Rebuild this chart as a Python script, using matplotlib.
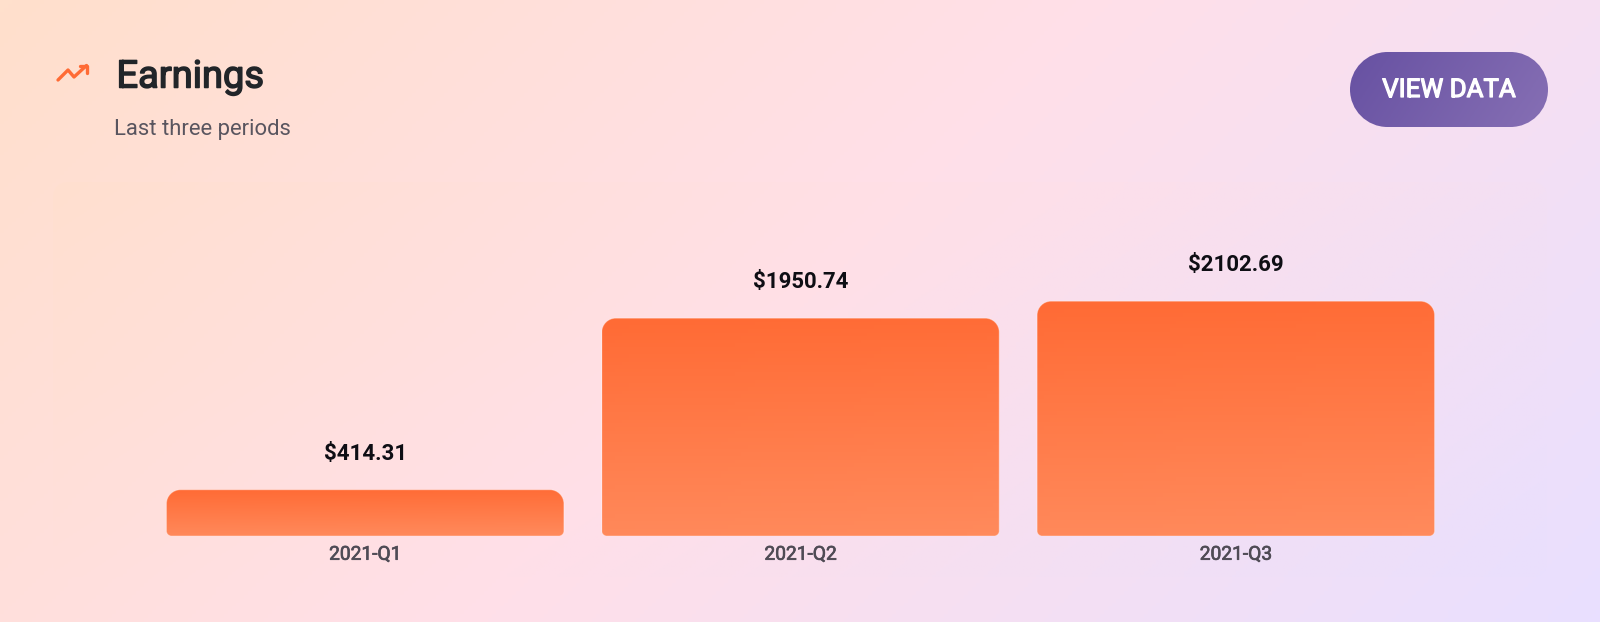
import numpy as np
import matplotlib
matplotlib.use('Agg')
import matplotlib.pyplot as plt
import matplotlib.patheffects as pe
from matplotlib.colors import LinearSegmentedColormap
from matplotlib.patches import PathPatch
from matplotlib.path import Path

categories = ['2021-Q1', '2021-Q2', '2021-Q3']
earnings = [414.31, 1950.74, 2102.69]
bar_labels = ['$414.31', '$1950.74', '$2102.69']

W, H = 1600, 622
plt.rcParams['font.family'] = ['Roboto', 'DejaVu Sans']

fig = plt.figure(figsize=(W / 100, H / 100), dpi=100)

K = 0.5523  # cubica para esquinas circulares


def round_rect(x0, y0, x1, y1, r_a, r_b, sx=1.0, sy=1.0):
    # y0 lado con radio r_a, y1 lado con radio r_b; sx, sy pixeles a unidades
    dy = 1 if y1 > y0 else -1
    ax_, ay_ = r_a / sx, r_a / sy
    bx_, by_ = r_b / sx, r_b / sy
    verts = [(x0 + ax_, y0), (x1 - ax_, y0),
             (x1 - ax_ * (1 - K), y0), (x1, y0 + dy * ay_ * (1 - K)), (x1, y0 + dy * ay_),
             (x1, y1 - dy * by_),
             (x1, y1 - dy * by_ * (1 - K)), (x1 - bx_ * (1 - K), y1), (x1 - bx_, y1),
             (x0 + bx_, y1),
             (x0 + bx_ * (1 - K), y1), (x0, y1 - dy * by_ * (1 - K)), (x0, y1 - dy * by_),
             (x0, y0 + dy * ay_),
             (x0, y0 + dy * ay_ * (1 - K)), (x0 + ax_ * (1 - K), y0), (x0 + ax_, y0),
             (x0 + ax_, y0)]
    codes = [Path.MOVETO, Path.LINETO,
             Path.CURVE4, Path.CURVE4, Path.CURVE4,
             Path.LINETO,
             Path.CURVE4, Path.CURVE4, Path.CURVE4,
             Path.LINETO,
             Path.CURVE4, Path.CURVE4, Path.CURVE4,
             Path.LINETO,
             Path.CURVE4, Path.CURVE4, Path.CURVE4,
             Path.CLOSEPOLY]
    return Path(verts, codes)


# fondo a pantalla completa, en pixeles con origen arriba
bg = fig.add_axes([0, 0, 1, 1])
bg.axis('off')

xx, yy = np.meshgrid(np.linspace(0, W, 400), np.linspace(0, H, 160))
t = xx + yy
t = t / t.max()
bg_cmap = LinearSegmentedColormap.from_list('bg', ['#FFE0CC', '#FFDFE9', '#E9DFFF'])
bg.imshow(t, extent=[0, W, H, 0], aspect='auto', cmap=bg_cmap, vmin=0, vmax=1, zorder=0)

# panel casi invisible detras del grafico, con el degradado propio
panel = PathPatch(round_rect(53, 182, 1547, 577, 14, 14), fc='none', ec='none')
bg.add_patch(panel)
pimg = bg.imshow(t, extent=[53, 1547, 577, 182], aspect='auto', cmap=bg_cmap, vmin=0, vmax=1,
                 alpha=0.35, zorder=1)
pimg.set_clip_path(panel)

# icono
bg.plot([58, 68, 74, 86.5], [80, 70, 77, 65.5], color='#FF6B35', lw=2.4, zorder=3,
        solid_capstyle='round', solid_joinstyle='round')
bg.plot([80, 87, 87], [65.5, 65.5, 72.5], color='#FF6B35', lw=2.4, zorder=3,
        solid_capstyle='round', solid_joinstyle='round')

bg.text(116.5, 77, 'Earnings', fontsize=27.4, color='#212529', va='center', zorder=3,
        path_effects=[pe.withStroke(linewidth=1.1, foreground='#212529')])
bg.text(114.5, 129, 'Last three periods', fontsize=15.8, color='#59555F', va='center', zorder=3)

# boton
btn = PathPatch(round_rect(1350, 52, 1548, 127, 37.5, 37.5), fc='none', ec='none', zorder=2)
bg.add_patch(btn)
bx, by = np.meshgrid(np.linspace(0, 1, 120), np.linspace(0, 1, 40))
im = bg.imshow(bx * 0.8 + by * 0.2, extent=[1350, 1548, 127, 52], aspect='auto', zorder=2,
               cmap=LinearSegmentedColormap.from_list('btn', ['#6751A2', '#866FB4']), vmin=0, vmax=1)
im.set_clip_path(btn)
bg.text(1449, 90, 'VIEW DATA', fontsize=18.6, color='white', ha='center', va='center', zorder=3,
        path_effects=[pe.withStroke(linewidth=0.9, foreground='white')])
bg.set_xlim(0, W)
bg.set_ylim(H, 0)

# grafico de barras
ax_l, ax_r, ax_t, ax_b = 147.5, 1453.5, 201, 536
ax = fig.add_axes([ax_l / W, 1 - ax_b / H, (ax_r - ax_l) / W, (ax_b - ax_t) / H])
ax.patch.set_alpha(0)
for s in ax.spines.values():
    s.set_visible(False)
ax.set_yticks([])
ax.set_xticks(range(3))
ax.set_xticklabels(categories, fontsize=13.8, color='#4F4B55',
                   path_effects=[pe.withStroke(linewidth=0.5, foreground='#4F4B55')])
ax.tick_params(axis='x', length=0, pad=7)

bar_w = 0.913
px_x = (ax_r - ax_l) / 3
px_y = (ax_b - ax_t) / 3000
bar_cmap = LinearSegmentedColormap.from_list('bar', ['#FF6B35', '#FF8A5C'])

for i, v in enumerate(earnings):
    x0, x1 = i - bar_w / 2, i + bar_w / 2
    shape = round_rect(x0, v, x1, 0, 14, 5, px_x, px_y)
    patch = PathPatch(shape, fc='none', ec='none')
    ax.add_patch(patch)
    gx, gy = np.meshgrid(np.linspace(0, 1, 60), np.linspace(0, 1, 60))
    # gradiente un poco inclinado
    g = gy * 0.95 + gx * 0.05
    img = ax.imshow(g, extent=[x0, x1, 0, v], aspect='auto', cmap=bar_cmap,
                    vmin=0, vmax=1, zorder=2)
    img.set_clip_path(patch)
    ax.add_patch(PathPatch(shape, fc='none', ec='white', lw=0.8, alpha=0.3, zorder=3))
    ax.text(i, v + 321, bar_labels[i], ha='center', va='center', fontsize=16,
            fontweight='bold', color='#0E0E14')

ax.set_xlim(-0.5, 2.5)
ax.set_ylim(0, 3000)

fig.savefig('out.png', dpi=100)
